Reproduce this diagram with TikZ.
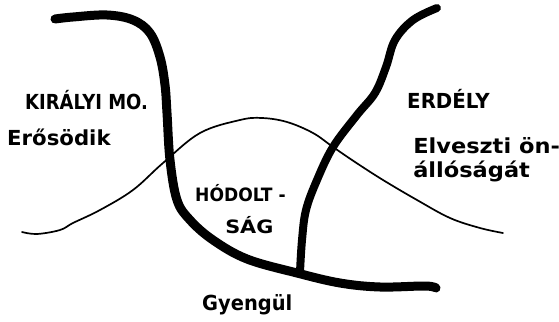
\documentclass[tikz,border=0pt]{standalone}
\usepackage{fontspec}
\setmainfont{DejaVu Sans}
\begin{document}
\begin{tikzpicture}[x=1pt, y=-1pt,
    border/.style={line width=9pt, line cap=round, line join=round},
    trend/.style={line width=1.7pt, line cap=round},
    lbl/.style={font=\bfseries\fontsize{18}{22}\selectfont, inner sep=0pt, anchor=base west, yscale=1.15, transform shape}]
    \useasboundingbox (0,0) rectangle (559,321);

    % the curve
    \draw[trend] plot[smooth, tension=0.6] coordinates {(22,232) (37,234) (60,230) (73,223) (100,210) (133,190) (163,163) (200,133) (240,120) (262,118) (287,122) (313,133) (333,147) (355,162) (383,180) (417,200) (450,218) (480,228) (503,233)};

    % the borders
    \draw[border] plot[smooth, tension=0.6] coordinates {(55,19) (73,17) (107,15) (133,20) (150,33) (160,57) (165,85) (167,113) (170,160) (177,200) (190,220) (213,240) (247,259) (297,273) (340,283) (380,287) (425,286) (436,288)};
    \draw[border, line width=8pt] plot[smooth, tension=0.6] coordinates {(437,8) (413,20) (395,40) (386,67) (375,93) (357,115) (333,147) (317,180) (306,210) (302,240) (300,272)};

    \node[lbl] (kiralyi) at (25,109) {KIRÁLYI MO.};
    \node[lbl, xscale=1.18] (erosodik) at (7,145) {Erősödik};
    \node[lbl, xscale=1.1] (erdely) at (407,108) {ERDÉLY};
    \node[lbl, xscale=1.25] (elveszti) at (413,153) {Elveszti ön-};
    \node[lbl, xscale=1.25] (allosag) at (413,177) {állóságát};
    \node[lbl, font=\bfseries\fontsize{16}{20}\selectfont, xscale=1.07] (hodolt) at (195,201) {HÓDOLT -};
    \node[lbl, font=\bfseries\fontsize{16}{20}\selectfont, xscale=1.3] (sag) at (225,233) {SÁG};
    \node[lbl, xscale=1.08] (gyengul) at (202,310) {Gyengül};
\end{tikzpicture}
\end{document}
